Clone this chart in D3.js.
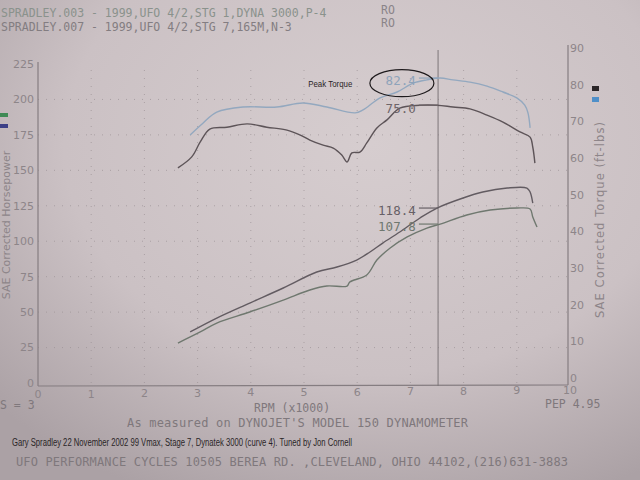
<!DOCTYPE html>
<html lang="en">
<head>
    <meta charset="UTF-8">
    <title>Dyno Chart</title>
    <script src="https://d3js.org/d3.v7.min.js"></script>
    <style>
        body { margin: 0; background: #c9bfc2; }
        svg { display: block; }
    </style>
</head>
<body>
    <svg width="640" height="480" id="dyno"></svg>

    <script>
        // run headers
        var headers = [
            "SPRADLEY.003 - 1999,UFO 4/2,STG 1,DYNA 3000,P-4",
            "SPRADLEY.007 - 1999,UFO 4/2,STG 7,165M,N-3"
        ];

        // tick labels
        var rpmTicks = [0, 1, 2, 3, 4, 5, 6, 7, 8, 9, 10];
        var hpTicks = [0, 25, 50, 75, 100, 125, 150, 175, 200, 225];
        var tqTicks = [0, 10, 20, 30, 40, 50, 60, 70, 80, 90];

        // torque, run 007 (light blue)
        var rpmTq1 = [2.86, 3.10, 3.36, 3.85, 4.49, 4.98, 5.43, 5.96, 6.11, 6.43, 6.75, 7.05, 7.31, 7.56, 7.80, 8.12, 8.44, 8.74, 9.00, 9.15, 9.21, 9.25];
        var tq1 = [66.3, 69.5, 72.5, 73.9, 73.9, 75.0, 73.9, 72.3, 73.1, 76.4, 78.0, 80.4, 81.3, 81.8, 81.3, 80.7, 79.6, 78.0, 76.4, 74.4, 72.3, 68.2];

        // torque, run 003 (dark)
        var rpmTq2 = [2.63, 2.89, 3.05, 3.23, 3.55, 3.93, 4.30, 4.68, 4.92, 5.11, 5.36, 5.55, 5.71, 5.81, 5.90, 6.05, 6.18, 6.37, 6.56, 6.80, 7.18, 7.50, 7.80, 8.12, 8.44, 8.74, 9.06, 9.25, 9.30, 9.34];
        var tq2 = [57.3, 60.3, 64.4, 67.9, 68.4, 69.3, 68.4, 67.6, 66.3, 64.9, 63.5, 62.7, 60.8, 58.9, 61.4, 61.6, 64.1, 68.2, 70.4, 73.6, 74.4, 74.4, 73.9, 73.4, 71.7, 69.8, 67.1, 65.7, 63.0, 58.6];

        // horsepower, upper (dark)
        var rpmHp1 = [2.86, 3.36, 3.98, 4.61, 5.24, 5.62, 5.99, 6.24, 6.48, 6.80, 7.18, 7.50, 7.99, 8.36, 8.82, 9.19, 9.25, 9.30];
        var hp1 = [36.0, 45.8, 56.4, 67.0, 78.3, 81.8, 86.7, 92.4, 98.7, 106.5, 116.4, 123.4, 130.5, 134.7, 137.5, 137.5, 134.7, 126.9];

        // horsepower, lower (green-grey)
        var rpmHp2 = [2.63, 3.05, 3.36, 3.98, 4.61, 5.11, 5.43, 5.81, 5.86, 6.18, 6.37, 6.62, 6.94, 7.31, 7.56, 8.06, 8.50, 9.00, 9.25, 9.30, 9.38];
        var hp2 = [28.2, 36.0, 42.3, 50.1, 58.5, 65.6, 68.4, 68.4, 71.2, 76.2, 86.7, 95.2, 103.0, 109.3, 112.1, 118.5, 122.0, 123.4, 122.7, 117.1, 110.0];

        // cursor and readouts
        var cursorRpm = 7.52;
        var readouts = [
            { text: "82.4", axis: "tq", at: 81.8, color: "#8ea3ba" },
            { text: "75.0", axis: "tq", at: 74.4, color: "#6e6569" },
            { text: "118.4", axis: "hp", at: 123.4, color: "#676066" },
            { text: "107.8", axis: "hp", at: 112.1, color: "#6f786f" }
        ];

        var svg = d3.select("#dyno");

        // paper background with a bit of vignette
        var defs = svg.append("defs");
        var grad = defs.append("radialGradient")
            .attr("id", "paper")
            .attr("cx", "58%").attr("cy", "30%").attr("r", "80%");
        grad.append("stop").attr("offset", "0%").attr("stop-color", "#d6cdcf");
        grad.append("stop").attr("offset", "60%").attr("stop-color", "#cbc1c4");
        grad.append("stop").attr("offset", "100%").attr("stop-color", "#aba1a5");
        svg.append("rect").attr("width", 640).attr("height", 480).attr("fill", "url(#paper)");

        // scales (photo is a little skewed, so the two y axes differ slightly)
        var x = d3.scaleLinear().domain([0, 10]).range([38, 570]);
        var yHp = d3.scaleLinear().domain([0, 225]).range([383, 64]);
        var yTq = d3.scaleLinear().domain([0, 90]).range([378, 48]);

        var mono = "'DejaVu Sans Mono', monospace";
        var sans = "'DejaVu Sans', sans-serif";
        var narrow = "'Liberation Sans Narrow', 'Liberation Sans', sans-serif";

        // headers
        svg.append("g")
            .attr("font-family", mono)
            .attr("font-size", 11.5)
            .selectAll("text")
            .data(headers)
            .join("text")
            .attr("x", 1)
            .attr("y", (d, i) => 17 + i * 14)
            .attr("fill", (d, i) => i == 0 ? "#8a928c" : "#837d81")
            .text(d => d);
        svg.append("g")
            .attr("font-family", mono)
            .attr("font-size", 11.5)
            .attr("fill", "#8a8488")
            .selectAll("text")
            .data(headers)
            .join("text")
            .attr("x", 381)
            .attr("y", (d, i) => 14 + i * 13)
            .text("RO");

        // dotted grid
        var grid = svg.append("g")
            .attr("stroke", "#9c9296")
            .attr("stroke-width", 1)
            .attr("stroke-dasharray", "1,7")
            .attr("opacity", 0.7);
        grid.selectAll("line.v")
            .data(rpmTicks.slice(1, -1))
            .join("line")
            .attr("class", "v")
            .attr("x1", d => x(d)).attr("x2", d => x(d))
            .attr("y1", yHp(0)).attr("y2", yHp(225));
        grid.selectAll("line.h")
            .data(hpTicks.slice(1, -1))
            .join("line")
            .attr("class", "h")
            .attr("x1", x(0)).attr("x2", x(10))
            .attr("y1", d => yHp(d)).attr("y2", d => yHp(d));

        // frame
        var axisColor = "#857d81";
        svg.append("line").attr("x1", x(0)).attr("x2", x(0)).attr("y1", yHp(225) - 2).attr("y2", yHp(0) + 3)
            .attr("stroke", axisColor).attr("stroke-width", 1.2);
        svg.append("line").attr("x1", x(0)).attr("x2", x(10) - 2).attr("y1", yHp(0) + 3).attr("y2", yHp(0) + 2)
            .attr("stroke", axisColor).attr("stroke-width", 1.2);
        svg.append("line").attr("x1", x(10) - 2).attr("x2", x(10) - 2).attr("y1", yTq(90) - 3).attr("y2", yHp(0) + 2)
            .attr("stroke", axisColor).attr("stroke-width", 1.2);

        // tick labels
        var tickColor = "#8d8589";
        svg.append("g")
            .attr("font-family", sans).attr("font-size", 11).attr("fill", tickColor)
            .attr("text-anchor", "end")
            .selectAll("text").data(hpTicks).join("text")
            .attr("x", 34).attr("y", d => yHp(d)).attr("dy", "0.35em")
            .text(d => d);
        svg.append("g")
            .attr("font-family", sans).attr("font-size", 11).attr("fill", tickColor)
            .attr("text-anchor", "start")
            .selectAll("text").data(tqTicks).join("text")
            .attr("x", 570).attr("y", d => yTq(d)).attr("dy", "0.35em")
            .text(d => d);
        svg.append("g")
            .attr("font-family", sans).attr("font-size", 11).attr("fill", tickColor)
            .attr("text-anchor", "middle")
            .selectAll("text").data(rpmTicks).join("text")
            .attr("x", d => x(d)).attr("y", (d, i) => 398 - i * 0.4)
            .text(d => d);

        // axis titles
        svg.append("text")
            .attr("transform", "translate(10,225) rotate(-90)")
            .attr("text-anchor", "middle")
            .attr("font-family", sans).attr("font-size", 11).attr("fill", tickColor)
            .text("SAE Corrected Horsepower");
        svg.append("text")
            .attr("transform", "translate(604,220) rotate(-90)")
            .attr("text-anchor", "middle")
            .attr("font-family", sans).attr("font-size", 11.5).attr("fill", tickColor)
            .attr("textLength", 196).attr("lengthAdjust", "spacing")
            .text("SAE Corrected Torque (ft-lbs)");

        // legend swatches beside the axes
        svg.append("rect").attr("x", 0).attr("y", 113).attr("width", 8).attr("height", 4).attr("fill", "#3f8a55");
        svg.append("rect").attr("x", 0).attr("y", 124).attr("width", 8).attr("height", 4).attr("fill", "#3c3f86");
        svg.append("rect").attr("x", 592).attr("y", 86).attr("width", 7).attr("height", 5).attr("fill", "#2b2628");
        svg.append("rect").attr("x", 592).attr("y", 97).attr("width", 7).attr("height", 5).attr("fill", "#4f8fc8");

        // cursor line
        svg.append("line")
            .attr("x1", x(cursorRpm)).attr("x2", x(cursorRpm))
            .attr("y1", yTq(90) + 2).attr("y2", yHp(0) + 3)
            .attr("stroke", "#7d7579").attr("stroke-width", 1);

        // curves
        var curves = [
            { r: rpmHp2, v: hp2, y: yHp, color: "#6f786f" },
            { r: rpmHp1, v: hp1, y: yHp, color: "#625b61" },
            { r: rpmTq2, v: tq2, y: yTq, color: "#5d5458" },
            { r: rpmTq1, v: tq1, y: yTq, color: "#93a8bf" }
        ];
        svg.append("g")
            .selectAll("path")
            .data(curves)
            .join("path")
            .attr("fill", "none")
            .attr("stroke", d => d.color)
            .attr("stroke-width", 1.4)
            .attr("stroke-linejoin", "round")
            .attr("d", d => d3.line()
                .x((p, i) => x(d.r[i]))
                .y((p, i) => d.y(d.v[i]))
                .curve(d3.curveCatmullRom.alpha(0.5))(d.v));

        // readouts at the cursor
        var ro = svg.append("g").selectAll("g").data(readouts).join("g");
        ro.append("text")
            .attr("x", x(7.1))
            .attr("y", d => (d.axis == "tq" ? yTq(d.at) : yHp(d.at)) + 3)
            .attr("dy", "0.35em")
            .attr("text-anchor", "end")
            .attr("font-family", mono).attr("font-size", 12.5)
            .attr("fill", d => d.color)
            .text(d => d.text);
        ro.append("line")
            .attr("x1", x(7.16)).attr("x2", x(cursorRpm))
            .attr("y1", d => d.axis == "tq" ? yTq(d.at) : yHp(d.at))
            .attr("y2", d => d.axis == "tq" ? yTq(d.at) : yHp(d.at))
            .attr("stroke", d => d.color).attr("stroke-width", 1.2);

        // peak torque note
        svg.append("ellipse")
            .attr("cx", x(6.84)).attr("cy", yTq(80.4))
            .attr("rx", 32).attr("ry", 13.5)
            .attr("fill", "none").attr("stroke", "#1e1a1c").attr("stroke-width", 1.2);
        svg.append("text")
            .attr("x", x(5.08)).attr("y", 87)
            .attr("font-family", narrow)
            .attr("font-size", 9.5).attr("fill", "#2a2527")
            .attr("textLength", 44).attr("lengthAdjust", "spacingAndGlyphs")
            .text("Peak Torque");

        // footer
        svg.append("text").attr("x", 0).attr("y", 409)
            .attr("font-family", mono).attr("font-size", 11.5).attr("fill", "#7f787c")
            .text("S = 3");
        svg.append("text").attr("x", 545).attr("y", 408)
            .attr("font-family", mono).attr("font-size", 11.5).attr("fill", "#7f787c")
            .text("PEP 4.95");
        svg.append("text").attr("x", 292).attr("y", 412).attr("text-anchor", "middle")
            .attr("font-family", mono).attr("font-size", 11.5).attr("fill", "#7f787c")
            .text("RPM (x1000)");
        svg.append("text").attr("x", 127).attr("y", 427)
            .attr("font-family", mono).attr("font-size", 12).attr("fill", "#7f787c")
            .attr("textLength", 341)
            .text("As measured on DYNOJET'S MODEL 150 DYNAMOMETER");
        svg.append("text").attr("x", 12).attr("y", 446)
            .attr("font-family", narrow)
            .attr("font-size", 10).attr("fill", "#2a2527")
            .attr("textLength", 340).attr("lengthAdjust", "spacingAndGlyphs")
            .text("Gary Spradley 22 November 2002 99 Vmax, Stage 7, Dynatek 3000 (curve 4).  Tuned by Jon Cornell");
        svg.append("text").attr("x", 16).attr("y", 466)
            .attr("font-family", mono).attr("font-size", 12).attr("fill", "#7f787c")
            .attr("textLength", 552)
            .text("UFO PERFORMANCE CYCLES  10505 BEREA RD. ,CLEVELAND, OHIO 44102,(216)631-3883");
    </script>
</body>
</html>
